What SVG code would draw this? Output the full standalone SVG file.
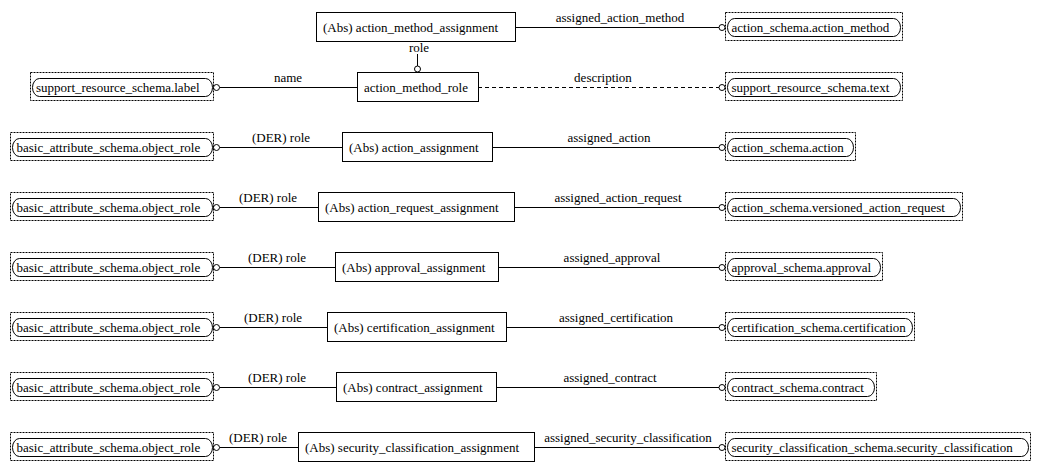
<svg xmlns="http://www.w3.org/2000/svg" width="1038" height="471" viewBox="0 0 1038 471" font-family="'Liberation Serif', 'DejaVu Serif', serif" font-size="13">
<style>
text{font-family:'Liberation Serif','Times New Roman',serif;font-size:13px;fill:#000}
.c{text-anchor:middle}
.ent{fill:#fff;stroke:#000;stroke-width:1}
.outer{fill:none;stroke:#000;stroke-width:1;stroke-dasharray:2,1}
.inner{fill:#fff;stroke:#000;stroke-width:1}
.ln{fill:none;stroke:#000;stroke-width:1}
.dl{fill:none;stroke:#000;stroke-width:1;stroke-dasharray:4,3}
.o{fill:#fff;stroke:#000;stroke-width:1}
</style>
<rect width="1038" height="471" fill="#fff"/>
<g id="connectors">
  <line class="ln" x1="515.5" y1="27.5" x2="719" y2="27.5"/><circle class="o" cx="722" cy="27.5" r="3"/>
  <text class="c" x="620" y="22">assigned_action_method</text>
  <line class="ln" x1="417.5" y1="54" x2="417.5" y2="66"/><circle class="o" cx="417.5" cy="69" r="3"/>
  <text class="c" x="419" y="52">role</text>
  <line class="ln" x1="219.5" y1="87.5" x2="357" y2="87.5"/><circle class="o" cx="216.5" cy="87.5" r="3"/>
  <text class="c" x="288" y="82">name</text>
  <line class="dl" x1="478" y1="87.5" x2="719" y2="87.5"/><circle class="o" cx="722" cy="87.5" r="3"/>
  <text class="c" x="603" y="82">description</text>
  <line class="ln" x1="219.5" y1="147.5" x2="342" y2="147.5"/><circle class="o" cx="216.5" cy="147.5" r="3"/>
  <text class="c" x="281" y="142">(DER) role</text>
  <line class="ln" x1="492" y1="147.5" x2="719" y2="147.5"/><circle class="o" cx="722" cy="147.5" r="3"/>
  <text class="c" x="609" y="142">assigned_action</text>
  <line class="ln" x1="219.5" y1="207.5" x2="318" y2="207.5"/><circle class="o" cx="216.5" cy="207.5" r="3"/>
  <text class="c" x="268" y="202">(DER) role</text>
  <line class="ln" x1="514" y1="207.5" x2="719" y2="207.5"/><circle class="o" cx="722" cy="207.5" r="3"/>
  <text class="c" x="618" y="202">assigned_action_request</text>
  <line class="ln" x1="219.5" y1="267.5" x2="335" y2="267.5"/><circle class="o" cx="216.5" cy="267.5" r="3"/>
  <text class="c" x="277" y="262">(DER) role</text>
  <line class="ln" x1="498" y1="267.5" x2="719" y2="267.5"/><circle class="o" cx="722" cy="267.5" r="3"/>
  <text class="c" x="612" y="262">assigned_approval</text>
  <line class="ln" x1="219.5" y1="327.5" x2="327" y2="327.5"/><circle class="o" cx="216.5" cy="327.5" r="3"/>
  <text class="c" x="273" y="322">(DER) role</text>
  <line class="ln" x1="506" y1="327.5" x2="719" y2="327.5"/><circle class="o" cx="722" cy="327.5" r="3"/>
  <text class="c" x="616" y="322">assigned_certification</text>
  <line class="ln" x1="219.5" y1="387.5" x2="337" y2="387.5"/><circle class="o" cx="216.5" cy="387.5" r="3"/>
  <text class="c" x="277" y="382">(DER) role</text>
  <line class="ln" x1="496" y1="387.5" x2="719" y2="387.5"/><circle class="o" cx="722" cy="387.5" r="3"/>
  <text class="c" x="610" y="382">assigned_contract</text>
  <line class="ln" x1="219.5" y1="447.5" x2="298" y2="447.5"/><circle class="o" cx="216.5" cy="447.5" r="3"/>
  <text class="c" x="258" y="442">(DER) role</text>
  <line class="ln" x1="534" y1="447.5" x2="719" y2="447.5"/><circle class="o" cx="722" cy="447.5" r="3"/>
  <text class="c" x="628" y="442">assigned_security_classification</text>
</g>

<g id="action_method_assignment"><rect class="ent" x="316.5" y="12.5" width="199" height="29"/><text x="323" y="32">(Abs) action_method_assignment</text></g>
<g id="action_method_role"><rect class="ent" x="357.5" y="72.5" width="121" height="29"/><text x="364" y="92">action_method_role</text></g>
<g id="action_assignment"><rect class="ent" x="342.5" y="132.5" width="150" height="29"/><text x="349" y="152">(Abs) action_assignment</text></g>
<g id="action_request_assignment"><rect class="ent" x="318.5" y="192.5" width="196" height="29"/><text x="325" y="212">(Abs) action_request_assignment</text></g>
<g id="approval_assignment"><rect class="ent" x="335.5" y="252.5" width="163" height="29"/><text x="342" y="272">(Abs) approval_assignment</text></g>
<g id="certification_assignment"><rect class="ent" x="327.5" y="312.5" width="179" height="29"/><text x="334" y="332">(Abs) certification_assignment</text></g>
<g id="contract_assignment"><rect class="ent" x="336.5" y="372.5" width="160" height="29"/><text x="343" y="392">(Abs) contract_assignment</text></g>
<g id="security_classification_assignment"><rect class="ent" x="298.5" y="432.5" width="236" height="29"/><text x="305" y="452">(Abs) security_classification_assignment</text></g>

<g id="support_resource_schema_label"><rect class="outer" x="30.5" y="72.5" width="183" height="28"/><rect class="inner" x="32.5" y="78.5" width="180" height="18" rx="7" ry="9"/><text x="36" y="92">support_resource_schema.label</text></g>
<g id="object_role_1"><rect class="outer" x="10.5" y="132.5" width="203" height="28"/><rect class="inner" x="12.5" y="138.5" width="200" height="18" rx="7" ry="9"/><text x="16.5" y="152">basic_attribute_schema.object_role</text></g>
<g id="object_role_2"><rect class="outer" x="10.5" y="192.5" width="203" height="28"/><rect class="inner" x="12.5" y="198.5" width="200" height="18" rx="7" ry="9"/><text x="16.5" y="212">basic_attribute_schema.object_role</text></g>
<g id="object_role_3"><rect class="outer" x="10.5" y="252.5" width="203" height="28"/><rect class="inner" x="12.5" y="258.5" width="200" height="18" rx="7" ry="9"/><text x="16.5" y="272">basic_attribute_schema.object_role</text></g>
<g id="object_role_4"><rect class="outer" x="10.5" y="312.5" width="203" height="28"/><rect class="inner" x="12.5" y="318.5" width="200" height="18" rx="7" ry="9"/><text x="16.5" y="332">basic_attribute_schema.object_role</text></g>
<g id="object_role_5"><rect class="outer" x="10.5" y="372.5" width="203" height="28"/><rect class="inner" x="12.5" y="378.5" width="200" height="18" rx="7" ry="9"/><text x="16.5" y="392">basic_attribute_schema.object_role</text></g>
<g id="object_role_6"><rect class="outer" x="10.5" y="432.5" width="203" height="28"/><rect class="inner" x="12.5" y="438.5" width="200" height="18" rx="7" ry="9"/><text x="16.5" y="452">basic_attribute_schema.object_role</text></g>

<g id="action_method"><rect class="outer" x="725.5" y="12.5" width="177" height="28"/><rect class="inner" x="727.5" y="18.5" width="173" height="18" rx="7" ry="9"/><text x="731.5" y="32">action_schema.action_method</text></g>
<g id="support_resource_schema_text"><rect class="outer" x="725.5" y="72.5" width="177" height="28"/><rect class="inner" x="727.5" y="78.5" width="173" height="18" rx="7" ry="9"/><text x="731.5" y="92">support_resource_schema.text</text></g>
<g id="action"><rect class="outer" x="725.5" y="132.5" width="130" height="28"/><rect class="inner" x="727.5" y="138.5" width="126" height="18" rx="7" ry="9"/><text x="731.5" y="152">action_schema.action</text></g>
<g id="versioned_action_request"><rect class="outer" x="725.5" y="192.5" width="237" height="28"/><rect class="inner" x="727.5" y="198.5" width="233" height="18" rx="7" ry="9"/><text x="731.5" y="212">action_schema.versioned_action_request</text></g>
<g id="approval"><rect class="outer" x="725.5" y="252.5" width="157" height="28"/><rect class="inner" x="727.5" y="258.5" width="153" height="18" rx="7" ry="9"/><text x="731.5" y="272">approval_schema.approval</text></g>
<g id="certification"><rect class="outer" x="725.5" y="312.5" width="189" height="28"/><rect class="inner" x="727.5" y="318.5" width="185" height="18" rx="7" ry="9"/><text x="731.5" y="332">certification_schema.certification</text></g>
<g id="contract"><rect class="outer" x="725.5" y="372.5" width="151" height="28"/><rect class="inner" x="727.5" y="378.5" width="147" height="18" rx="7" ry="9"/><text x="731.5" y="392">contract_schema.contract</text></g>
<g id="security_classification"><rect class="outer" x="725.5" y="432.5" width="305" height="28"/><rect class="inner" x="727.5" y="438.5" width="301" height="18" rx="7" ry="9"/><text x="731.5" y="452">security_classification_schema.security_classification</text></g>
</svg>
